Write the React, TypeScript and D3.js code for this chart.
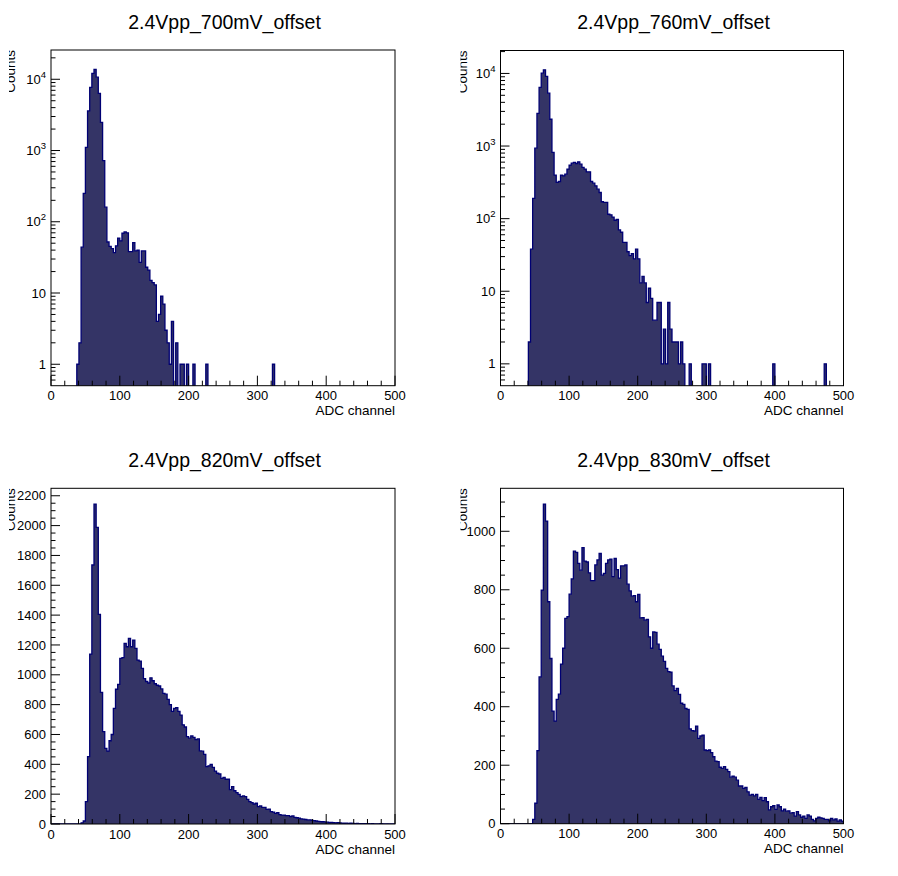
import { useEffect, useRef } from 'react';
import * as d3 from 'd3';

const WIDTH = 898;
const HEIGHT = 876;

// histogram binning: 160 bins over 0..500 ADC channels
const NBINS = 160;
const X_MIN = 0;
const X_MAX = 500;

const titles = [
    "2.4Vpp_700mV_offset",
    "2.4Vpp_760mV_offset",
    "2.4Vpp_820mV_offset",
    "2.4Vpp_830mV_offset",
];

// counts per bin, each list starts at its "first" bin index
const first700 = 12;
const counts700 = [
    1, 2, 44, 251, 1110, 3590, 7720, 12100, 13800, 10700,
    6330, 2490, 720, 160, 52, 45, 42, 37, 46, 59,
    54, 69, 72, 70, 38, 38, 51, 39, 40, 27,
    39, 39, 23, 21, 15, 14, 13, 4, 5, 9,
    7, 3, 2, 1, 4, 0, 2, 0, 1, 1,
    0, 1, 0, 0, 1, 0, 0, 0, 0, 0,
    1, 0, 0, 0, 0, 0, 0, 0, 0, 0,
    0, 0, 0, 0, 0, 0, 0, 0, 0, 0,
    0, 0, 0, 0, 0, 0, 0, 0, 0, 0,
    0, 1,
];

const first760 = 13;
const counts760 = [
    2, 38, 190, 935, 2810, 6410, 10100, 11200, 9090, 5350,
    2340, 816, 398, 315, 325, 398, 389, 410, 481, 546,
    581, 594, 575, 607, 563, 507, 481, 441, 441, 325,
    308, 283, 255, 229, 171, 167, 167, 115, 113, 105,
    95, 98, 70, 65, 47, 47, 35, 31, 33, 28,
    38, 28, 13, 16, 13, 7, 11, 8, 4, 4,
    7, 7, 1, 3, 1, 7, 3, 2, 2, 2,
    1, 2, 1, 0, 0, 1, 0, 0, 0, 0,
    0, 1, 1, 0, 1, 0, 0, 0, 0, 0,
    0, 0, 0, 0, 0, 0, 0, 0, 0, 0,
    0, 0, 0, 0, 0, 0, 0, 0, 0, 0,
    0, 0, 0, 0, 1, 0, 0, 0, 0, 0,
    0, 0, 0, 0, 0, 0, 0, 0, 0, 0,
    0, 0, 0, 0, 0, 0, 0, 0, 1,
];

const first820 = 14;
const counts820 = [
    8, 20, 150, 451, 1139, 1736, 2144, 1988, 1405, 882,
    619, 507, 489, 558, 600, 775, 903, 936, 1110, 1115,
    1211, 1188, 1244, 1188, 1233, 1177, 1099, 1092, 1043, 975,
    955, 945, 980, 960, 940, 930, 925, 905, 875, 870,
    835, 800, 755, 775, 780, 755, 730, 665, 650, 585,
    575, 590, 580, 565, 570, 490, 488, 467, 385, 390,
    400, 380, 355, 340, 335, 306, 313, 300, 300, 230,
    250, 223, 210, 199, 183, 188, 183, 165, 150, 143,
    134, 139, 116, 121, 112, 112, 98, 100, 83, 80,
    71, 76, 63, 60, 60, 56, 56, 49, 54, 45,
    42, 40, 35, 33, 30, 27, 28, 24, 22, 20,
    18, 16, 15, 14, 12, 10, 11, 9, 8, 9,
    7, 6, 5, 6, 4, 5, 4, 3, 4, 3,
    2, 3, 2, 2, 1, 2, 1, 1, 1, 2,
    1, 0, 1,
];

const first830 = 15;
const counts830 = [
    15, 70, 250, 502, 799, 1093, 1035, 759, 565, 385,
    351, 425, 443, 546, 600, 702, 708, 785, 837, 932,
    928, 890, 867, 944, 898, 895, 858, 831, 831, 885,
    902, 924, 850, 856, 890, 902, 905, 845, 907, 869,
    840, 882, 882, 885, 819, 796, 778, 780, 759, 784,
    704, 705, 696, 699, 639, 600, 656, 654, 614, 596,
    573, 555, 531, 520, 518, 471, 455, 463, 442, 412,
    408, 394, 391, 324, 318, 317, 334, 292, 300, 303,
    252, 250, 252, 243, 229, 214, 212, 193, 189, 195,
    186, 178, 159, 163, 159, 149, 129, 129, 121, 124,
    109, 98, 100, 95, 100, 83, 90, 79, 89, 75,
    47, 58, 62, 49, 64, 58, 44, 50, 43, 44,
    36, 38, 26, 41, 30, 22, 26, 18, 30, 26,
    15, 10, 18, 22, 20, 18, 15, 15, 10, 18,
    13, 16, 9, 13, 9,
];

const xMajorTicks = [0, 100, 200, 300, 400, 500];
const logMajorTicks = [1, 10, 100, 1000, 10000];
const linTicks820 = [0, 200, 400, 600, 800, 1000, 1200, 1400, 1600, 1800, 2000, 2200];
const linTicks830 = [0, 200, 400, 600, 800, 1000];

const panels = [
    { title: titles[0], first: first700, counts: counts700, log: true, yMin: 0.5, yMax: 25760, ticks: logMajorTicks },
    { title: titles[1], first: first760, counts: counts760, log: true, yMin: 0.5, yMax: 20700, ticks: logMajorTicks },
    { title: titles[2], first: first820, counts: counts820, log: false, yMin: 0, yMax: 2250, ticks: linTicks820 },
    { title: titles[3], first: first830, counts: counts830, log: false, yMin: 0, yMax: 1147, ticks: linTicks830 },
];

// frame boxes of the four pads
const boxes = [
    { left: 51, top: 50, width: 344, height: 335.7, padLeft: 9, padCenter: 224.5 },
    { left: 500.5, top: 50.5, width: 343, height: 335.2, padLeft: 460.5, padCenter: 673.5 },
    { left: 51, top: 488.3, width: 344, height: 335.7, padLeft: 9, padCenter: 224.5 },
    { left: 500.5, top: 488.3, width: 343, height: 335.4, padLeft: 460.5, padCenter: 673.5 },
];

const FONT = "'Liberation Sans', Arial, Helvetica, sans-serif";
const FILL = "#343466";
const LINE = "#000073";

function drawPanel(svg: any, p: any, box: any, idx: number) {
    const { left, top, width, height, padLeft, padCenter } = box;
    const bottom = top + height;
    const right = left + width;

    const x = d3.scaleLinear().domain([X_MIN, X_MAX]).range([left, right]);
    const y: any = p.log
        ? d3.scaleLog().domain([p.yMin, p.yMax]).range([bottom, top])
        : d3.scaleLinear().domain([0, p.yMax]).range([bottom, top]);

    const g = svg.append("g");

    const clipId = `frame-clip-${idx}`;
    svg.append("clipPath").attr("id", clipId)
        .append("rect")
        .attr("x", left).attr("y", top)
        .attr("width", width).attr("height", height);

    // fill the bins
    const values = d3.range(NBINS).map(b => {
        const k = b - p.first;
        return k >= 0 && k < p.counts.length ? p.counts[k] : 0;
    });
    const edges = d3.range(NBINS + 1).map(b => X_MIN + b * (X_MAX - X_MIN) / NBINS);
    const yv = (v: number) => (p.log ? (v >= p.yMin ? y(v) : bottom + 3) : y(v));

    const pts: [number, number][] = [[x(edges[0]), bottom + 3]];
    values.forEach((v, b) => {
        pts.push([x(edges[b]), yv(v)]);
        pts.push([x(edges[b + 1]), yv(v)]);
    });
    pts.push([x(X_MAX), bottom + 3]);

    const line = d3.line();
    const hg = g.append("g").attr("clip-path", `url(#${clipId})`);
    hg.append("path")
        .attr("d", line(pts) + "Z")
        .attr("fill", FILL)
        .attr("stroke", "none");
    hg.append("path")
        .attr("d", line(pts))
        .attr("fill", "none")
        .attr("stroke", LINE)
        .attr("stroke-width", 1.3)
        .attr("stroke-linejoin", "miter");

    // frame
    g.append("rect")
        .attr("x", left).attr("y", top)
        .attr("width", width).attr("height", height)
        .attr("fill", "none")
        .attr("stroke", "black")
        .attr("stroke-width", 1);

    // x ticks
    d3.range(X_MIN, X_MAX + 1, 20).forEach(t => {
        const len = t % 100 === 0 ? 10 : 5;
        g.append("line")
            .attr("x1", x(t)).attr("x2", x(t))
            .attr("y1", bottom).attr("y2", bottom - len)
            .attr("stroke", "black").attr("stroke-width", 1);
    });
    xMajorTicks.forEach(t => {
        g.append("text")
            .attr("x", x(t)).attr("y", bottom + 14.5)
            .attr("text-anchor", "middle")
            .style("font-family", FONT).style("font-size", "13px")
            .text(t);
    });
    g.append("text")
        .attr("x", right).attr("y", bottom + 29.5)
        .attr("text-anchor", "end")
        .style("font-family", FONT).style("font-size", "13.5px")
        .text("ADC channel");

    // y ticks
    if (p.log) {
        const minor: number[] = [];
        [0.1, 1, 10, 100, 1000, 10000].forEach(d => {
            for (let m = 2; m <= 9; m++) {
                const v = m * d;
                if (v > p.yMin && v < p.yMax) minor.push(v);
            }
        });
        minor.forEach(v => {
            g.append("line")
                .attr("x1", left).attr("x2", left + 4.5)
                .attr("y1", y(v)).attr("y2", y(v))
                .attr("stroke", "black").attr("stroke-width", 1);
        });
    } else {
        d3.range(0, p.yMax, 50).forEach(v => {
            const len = v % 200 === 0 ? 9 : 4.5;
            g.append("line")
                .attr("x1", left).attr("x2", left + len)
                .attr("y1", y(v)).attr("y2", y(v))
                .attr("stroke", "black").attr("stroke-width", 1);
        });
    }
    p.ticks.forEach((t: number) => {
        if (p.log) {
            g.append("line")
                .attr("x1", left).attr("x2", left + 9)
                .attr("y1", y(t)).attr("y2", y(t))
                .attr("stroke", "black").attr("stroke-width", 1);
        }
        const txt = g.append("text")
            .attr("x", left - 5).attr("y", y(t) + 4.6)
            .attr("text-anchor", "end")
            .style("font-family", FONT).style("font-size", "13px");
        if (p.log && t >= 100) {
            txt.append("tspan").text("10");
            txt.append("tspan")
                .attr("dy", -6)
                .style("font-size", "9.5px")
                .text(String(Math.round(Math.log10(t))));
        } else {
            txt.text(t);
        }
    });

    // y title, clipped at the pad edge
    const padClip = `pad-clip-${idx}`;
    svg.append("clipPath").attr("id", padClip)
        .append("rect")
        .attr("x", padLeft).attr("y", top - 60)
        .attr("width", 440).attr("height", height + 120);
    g.append("g").attr("clip-path", `url(#${padClip})`)
        .append("text")
        .attr("transform", `translate(${padLeft + 6},${top}) rotate(-90)`)
        .attr("text-anchor", "end")
        .style("font-family", FONT).style("font-size", "13.5px")
        .text("Counts");

    // title
    g.append("text")
        .attr("x", padCenter).attr("y", top - 21.5)
        .attr("text-anchor", "middle")
        .style("font-family", FONT).style("font-size", "19.5px")
        .text(p.title);
}

export default function App() {
    const svgRef = useRef<SVGSVGElement>(null);

    useEffect(() => {
        if (!svgRef.current) return;
        const svg = d3.select(svgRef.current);
        svg.selectAll("*").remove();
        svg.append("rect").attr("width", WIDTH).attr("height", HEIGHT).attr("fill", "white");
        panels.forEach((p, i) => drawPanel(svg, p, boxes[i], i));
    }, []);

    return (
        <svg
            ref={svgRef}
            width={WIDTH}
            height={HEIGHT}
            style={{ position: "absolute", left: 0, top: 0, display: "block" }}
        />
    );
}
